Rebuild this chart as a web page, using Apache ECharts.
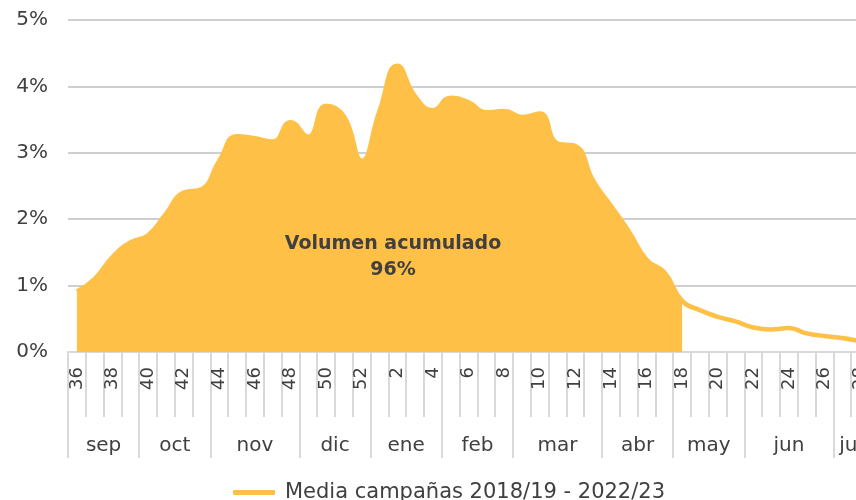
<!DOCTYPE html>
<html>
<head>
<meta charset="utf-8">
<script src="https://cdn.jsdelivr.net/npm/echarts@6/dist/echarts.min.js"></script>
<style>
  html, body { margin: 0; padding: 0; background: #fff; }
  #main { width: 856px; height: 500px; }
</style>
</head>
<body>
<div id="main"></div>
<script>
// semanas de campaña (sep -> jul)
const weeks = ['36', '37', '38', '39', '40', '41', '42', '43', '44', '45', '46', '47', '48', '49', '50', '51', '52',
  '1', '2', '3', '4', '5', '6', '7', '8', '9', '10', '11', '12', '13', '14', '15', '16', '17', '18', '19', '20',
  '21', '22', '23', '24', '25', '26', '27', '28']
// % medio semanal
const media = [0.91, 1.10, 1.43, 1.65, 1.76, 2.08, 2.40, 2.45, 2.88, 3.25, 3.22, 3.17, 3.46, 3.24, 3.71, 3.55, 2.88,
  3.63, 4.31, 3.85, 3.64, 3.83, 3.76, 3.61, 3.63, 3.54, 3.59, 3.14, 3.10, 2.58, 2.20, 1.82, 1.39, 1.20, 0.77, 0.63, 0.53,
  0.46, 0.37, 0.34, 0.36, 0.28, 0.24, 0.21, 0.16]
// volumen acumulado hasta la semana 18
const lastAccWeek = '18'
const months = ['sep', 'oct', 'nov', 'dic', 'ene', 'feb', 'mar', 'abr', 'may', 'jun', 'jul']
const monthWeeks = [4, 4, 5, 4, 4, 4, 5, 4, 4, 5, 2]

const serieName = 'Media campañas 2018/19 - 2022/23'
const color = '#FEC046'
const font = 'DejaVu Sans'
const textColor = '#404040'

// eje de meses en medias semanas
const halfCats = new Array(weeks.length * 2 + 1).fill('')
const bounds = new Set()
let s = 0
months.forEach((m, i) => {
  bounds.add(2 * s)
  halfCats[2 * s + monthWeeks[i]] = m
  s += monthWeeks[i]
})
bounds.add(2 * s)

const accumulated = media.slice(0, weeks.indexOf(lastAccWeek) + 1)

const chart = echarts.init(document.getElementById('main'))
chart.setOption({
  animation: false,
  textStyle: { fontFamily: font },
  grid: { left: 68, top: 20, height: 332, width: 801, containLabel: false, outerBoundsMode: 'none' },
  legend: {
    data: [serieName],
    left: 228,
    top: 477,
    icon: 'roundRect',
    itemWidth: 42,
    itemHeight: 5,
    textStyle: { fontSize: 21, color: textColor, fontFamily: font, padding: [0, 0, 0, 5] }
  },
  xAxis: [
    {
      type: 'category',
      data: weeks,
      boundaryGap: true,
      axisLine: { lineStyle: { color: '#d9d9d9', width: 2 } },
      axisTick: { show: true, interval: 0, length: 65, lineStyle: { color: '#d9d9d9', width: 2 } },
      axisLabel: { interval: 1, rotate: 90, fontSize: 18, color: textColor, margin: 15, fontFamily: font }
    },
    {
      type: 'category',
      data: halfCats,
      boundaryGap: false,
      position: 'bottom',
      axisLine: { show: false },
      axisTick: { show: true, interval: (i) => bounds.has(i), length: 106, lineStyle: { color: '#d9d9d9', width: 2 } },
      axisLabel: { interval: (i) => halfCats[i] !== '', fontSize: 20, color: textColor, margin: 84, fontFamily: font }
    }
  ],
  yAxis: {
    type: 'value',
    min: 0,
    max: 5,
    interval: 1,
    axisLine: { show: false },
    axisTick: { show: false },
    axisLabel: { formatter: '{value}%', fontSize: 20, color: textColor, margin: 20, fontFamily: font },
    splitLine: { lineStyle: { color: '#bfbfbf', width: 1.5 } }
  },
  graphic: [
    {
      type: 'text',
      x: 393,
      y: 231,
      style: {
        text: 'Volumen acumulado\n96%',
        align: 'center',
        verticalAlign: 'top',
        fontSize: 19,
        fontWeight: 'bold',
        fontFamily: font,
        lineHeight: 26,
        fill: textColor
      },
      z: 100
    }
  ],
  series: [
    {
      name: 'acumulado',
      type: 'line',
      data: accumulated,
      smooth: 0.5,
      showSymbol: false,
      lineStyle: { width: 0 },
      itemStyle: { color: color },
      areaStyle: { color: color, opacity: 1 },
      z: 2
    },
    {
      name: serieName,
      type: 'line',
      data: media,
      smooth: 0.5,
      showSymbol: false,
      lineStyle: { width: 4.5, color: color },
      itemStyle: { color: color },
      z: 3
    }
  ]
})
</script>
</body>
</html>
